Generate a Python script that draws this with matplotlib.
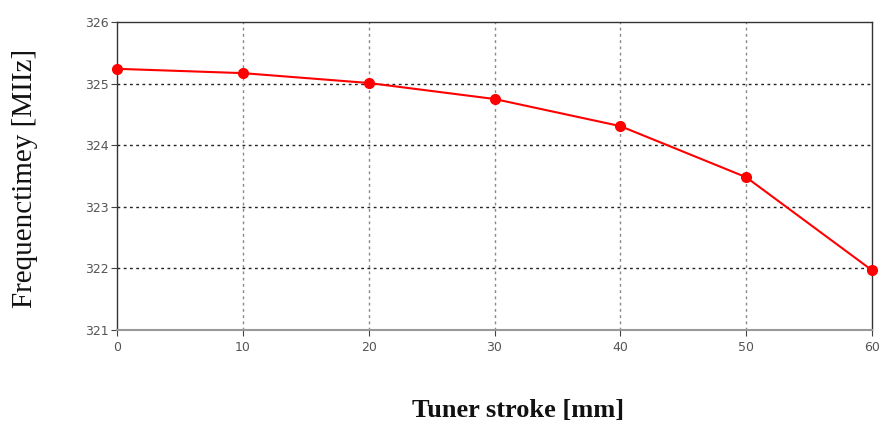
import matplotlib
matplotlib.use("Agg")
import matplotlib.pyplot as plt

stroke_mm = [0, 10, 20, 30, 40, 50, 60]
freq_mhz = [325.24, 325.17, 325.01, 324.75, 324.31, 323.48, 321.97]
x_ticks = [0, 10, 20, 30, 40, 50, 60]
y_ticks = [321, 322, 323, 324, 325, 326]

fig = plt.figure(figsize=(8.8, 4.28), dpi=100)
ax = fig.add_axes([117/880, 1 - 330/428, (872-117)/880, (330-22)/428])

ax.plot(stroke_mm, freq_mhz, color="#ff0000", lw=1.5, marker="o", ms=7,
        markerfacecolor="#ff0000", markeredgecolor="#ff0000", zorder=3, clip_on=False)

ax.set_xlim(0, 60)
ax.set_ylim(321, 326)
ax.set_xticks(x_ticks)
ax.set_yticks(y_ticks)

for y in y_ticks[1:-1]:
    ax.axhline(y, color="#222222", lw=1.0, ls=(0, (2, 2.5)), zorder=1)
for x in x_ticks[1:-1]:
    ax.axvline(x, color="#888888", lw=1.0, ls=(0, (2, 2.5)), zorder=1)

for s in ["top", "left", "right"]:
    ax.spines[s].set_color("#333333")
    ax.spines[s].set_linewidth(1.0)
ax.spines["bottom"].set_color("#999999")
ax.spines["bottom"].set_linewidth(1.5)

ax.tick_params(axis="both", length=4, width=0.8, colors="#444444", labelsize=9,
               labelcolor="#555555")
ax.tick_params(axis="y", direction="out", pad=2)
ax.tick_params(axis="x", direction="out", pad=4)

fig.text(25/880, 1 - 178/428, "Frequenctimey [MIIz]", rotation=90, ha="center", va="center",
         fontsize=21, family="Liberation Serif", color="#111111")
fig.text(518/880, 1 - 410/428, "Tuner stroke [mm]", ha="center", va="center",
         fontsize=19, family="Liberation Serif", fontweight="bold", color="#111111")

fig.savefig("out.png", dpi=100)
